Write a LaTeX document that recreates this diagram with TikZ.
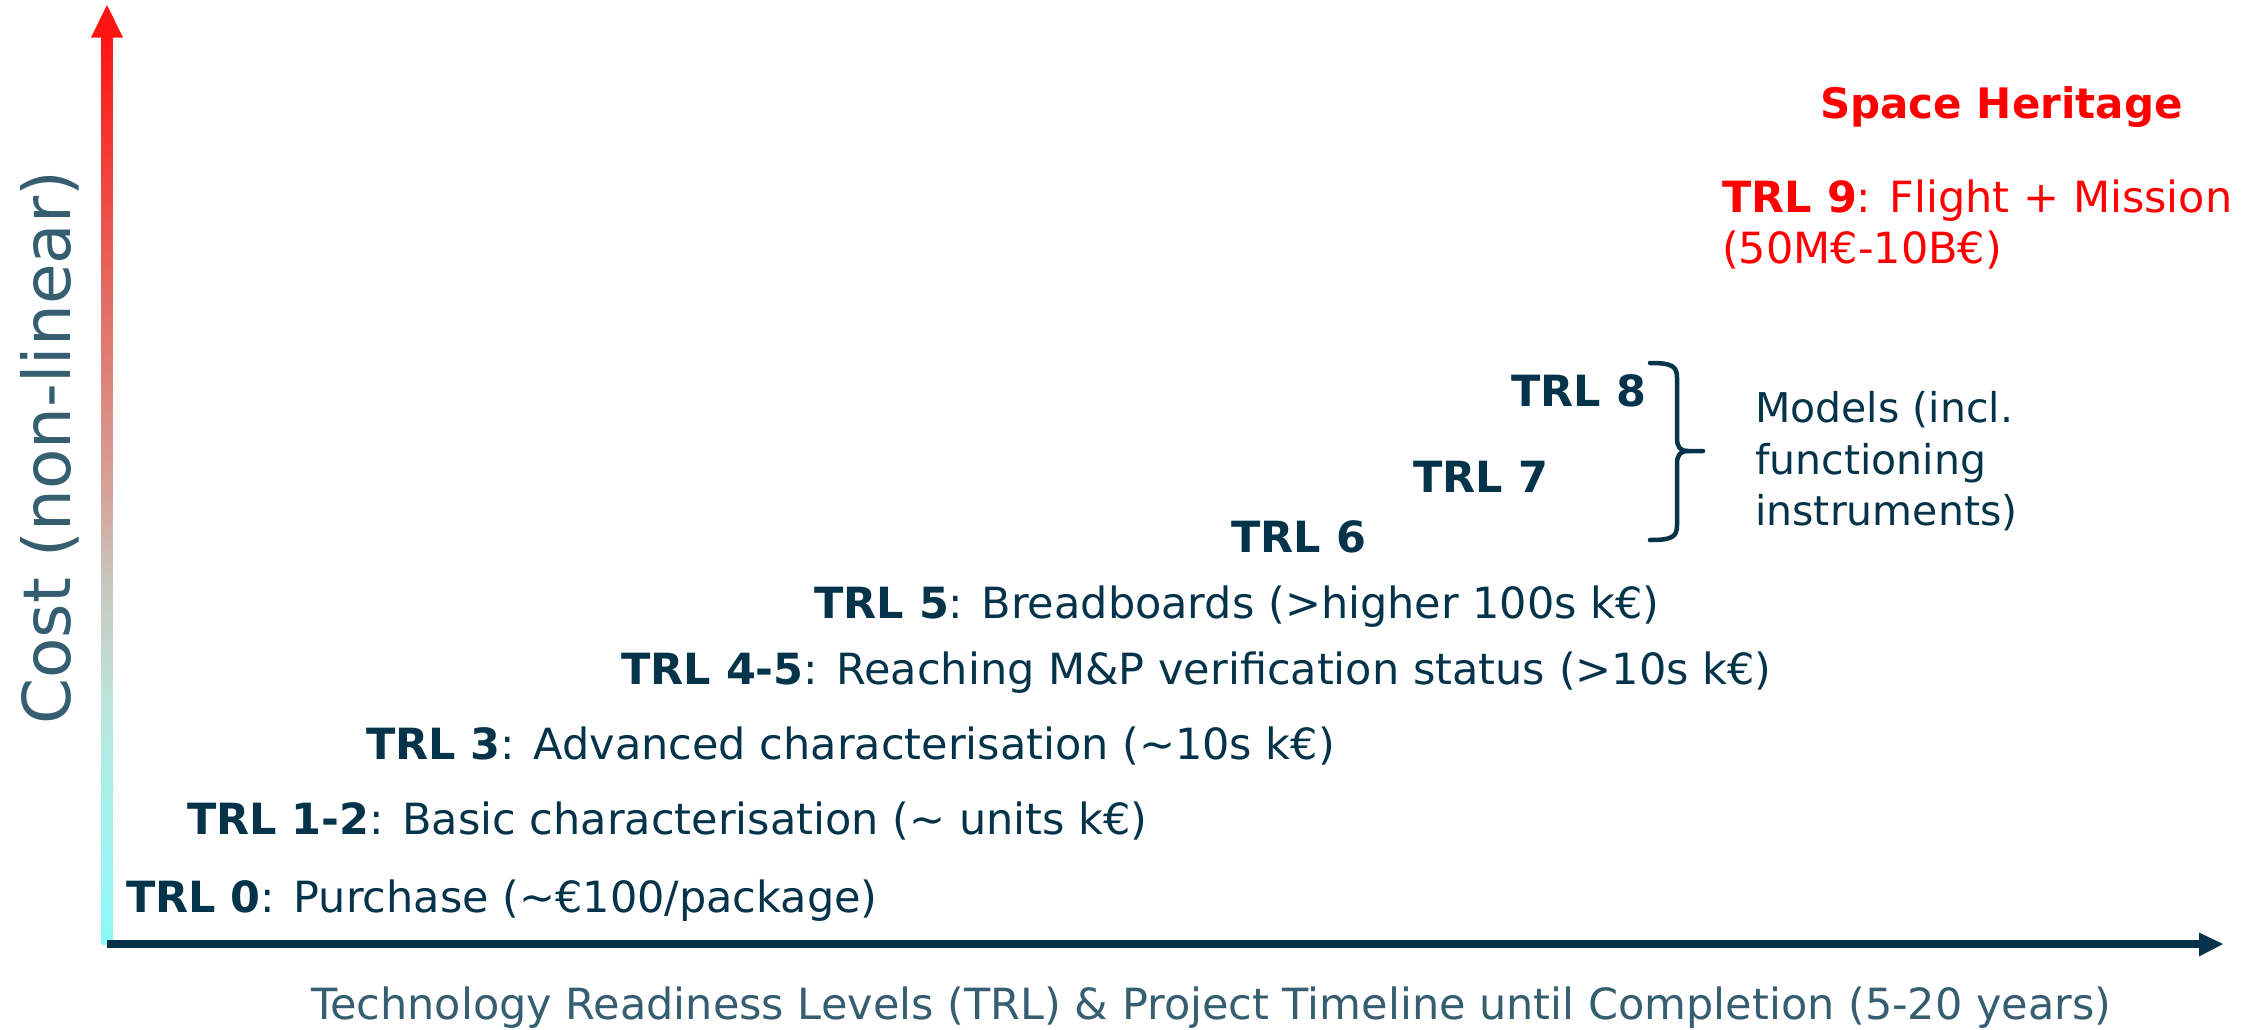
\documentclass[tikz,border=0pt]{standalone}
\usepackage{fontspec}
\setmainfont{DejaVu Sans}
\definecolor{navy}{HTML}{04334A}
\definecolor{steel}{HTML}{355E70}
\definecolor{hot}{HTML}{FF0000}
\definecolor{tipred}{RGB}{255,20,20}
% cost axis: cyan at the origin, through a pale grey, to red at the top
% (TikZ fits the path to the 25bp--75bp band of the shading)
\pgfdeclareverticalshading{costgrad}{100bp}{%
  rgb(0bp)=(0.55,0.97,0.97);
  rgb(25bp)=(0.55,0.97,0.97);
  rgb(33bp)=(0.66,0.94,0.92);
  rgb(38.5bp)=(0.737,0.894,0.855);
  rgb(44.9bp)=(0.784,0.784,0.745);
  rgb(49.5bp)=(0.831,0.647,0.608);
  rgb(60.5bp)=(0.886,0.431,0.392);
  rgb(75bp)=(1,0.078,0.078);
  rgb(100bp)=(1,0.078,0.078)}
\begin{document}
\begin{tikzpicture}[x=1pt,y=-1pt,
  lvl/.style={anchor=base west, inner sep=0pt, text=navy, font=\fontsize{43}{51}\selectfont},
  redlvl/.style={lvl, text=hot},
  axislabel/.style={inner sep=0pt, text=steel},
  bracestroke/.style={draw=navy, line width=4.5pt, line cap=round, line join=round}]
\useasboundingbox (0,0) rectangle (2250,1029);

% axes
\coordinate (origin) at (107,944);
\coordinate (ytop) at (107,5);
\coordinate (xend) at (2223,944);
\shade[shading=costgrad] (101.7,37) rectangle (112.7,944);
\fill[tipred] (91,37.5) -- (ytop) -- (123,37.5) -- cycle;
\draw[navy, line width=8pt] (origin) -- (2200,944);
\fill[navy] (2199,932.5) -- (xend) -- (2199,956.5) -- cycle;

% axis titles
\node[axislabel, rotate=90, anchor=base west, font=\fontsize{66}{74}\selectfont] (ylab) at (70,725) {Cost (non-linear)};
\node[axislabel, anchor=base west, font=\fontsize{43}{51}\selectfont] (xlab) at (311,1019)
  {Technology Readiness Levels (TRL) \& Project Timeline until Completion (5-20 years)};

% readiness levels
\node[lvl] (t0) at (126,912) {\textbf{TRL 0}: Purchase (\textasciitilde€100/package)};
\node[lvl] (t12) at (187,834) {\textbf{TRL 1-2}: Basic characterisation (\textasciitilde{} units k€)};
\node[lvl] (t3) at (366,759) {\textbf{TRL 3}: Advanced characterisation (\textasciitilde10s k€)};
\node[lvl] (t45) at (621,684) {\textbf{TRL 4-5}: Reaching M\&P verification status (>10s k€)};
\node[lvl] (t5) at (814,618) {\textbf{TRL 5}: Breadboards (>higher 100s k€)};
\node[lvl] (t6) at (1231,552) {\textbf{TRL 6}};
\node[lvl] (t7) at (1413,492) {\textbf{TRL 7}};
\node[lvl] (t8) at (1511,406) {\textbf{TRL 8}};

% models brace
\coordinate (btop) at (1650,363);
\coordinate (bbot) at (1650,540);
\coordinate (bmid) at (1688,451);
\coordinate (btip) at (1703,451);
\draw[bracestroke] (btop) .. controls (1672,363) and (1677,366) .. (1677,378)
  -- (1677,438) .. controls (1677,447) and (1680,451) .. (bmid) -- (btip);
\draw[bracestroke] (bmid) .. controls (1680,451) and (1677,455) .. (1677,464)
  -- (1677,525) .. controls (1677,537) and (1672,540) .. (bbot);
\node[lvl, font=\fontsize{41}{49}\selectfont] (m1) at (1755,422) {Models (incl.};
\node[lvl, font=\fontsize{41}{49}\selectfont] (m2) at (1755,474) {functioning};
\node[lvl, font=\fontsize{41}{49}\selectfont] (m3) at (1755,525) {instruments)};

% flight level
\node[redlvl, font=\fontsize{42}{50}\selectfont] (sh) at (1820,118) {\textbf{Space Heritage}};
\node[redlvl] (t9) at (1722,212) {\textbf{TRL 9}: Flight + Mission};
\node[redlvl] (t9b) at (1722,263) {(50M€-10B€)};
\end{tikzpicture}
\end{document}
